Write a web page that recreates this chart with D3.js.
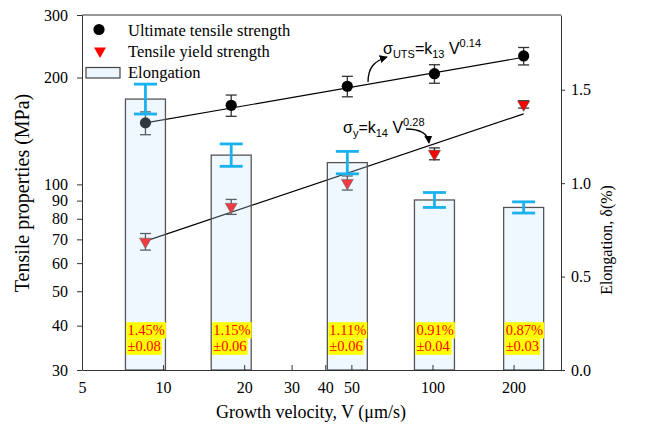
<!DOCTYPE html>
<meta charset="utf-8">
<title>Tensile properties vs growth velocity</title>
<style>
body { margin: 0; background: #fff; }
svg { display: block; }
.axis path, .axis line { stroke: #333; }
.axis text { fill: #000; }
</style>
<svg id="chart" width="646" height="440"></svg>
<script src="https://cdn.jsdelivr.net/npm/d3@7/dist/d3.min.js"></script>
<script>
// values
const velocity = [8.6, 17.9, 48.3, 101.7, 218];
const utsMean = [149, 167, 189, 205, 230];
const utsErr = [11, 11.5, 12.5, 12.3, 13];
const yieldMean = [69, 86.5, 101, 122, 168];
const yieldErr = [3.7, 4.2, 4.6, 4.7, 4];
const elongation = [1.45, 1.15, 1.11, 0.91, 0.87];
const elongationErr = [0.08, 0.06, 0.06, 0.04, 0.03];
const utsFit = [[8.6, 149], [218, 228]];
const yieldFit = [[8.6, 69.2], [218, 158]];

const xTicks = [5, 10, 20, 30, 40, 50, 100, 200];
const leftTicks = [30, 40, 50, 60, 70, 80, 90, 100, 200, 300];
const rightTicks = [0, 0.5, 1.0, 1.5];
const legendLabels = ["Ultimate tensile strength", "Tensile yield strength", "Elongation"];

const SERIF = "'Liberation Serif', 'Times New Roman', serif",
      SANS = "'Liberation Sans', Arial, sans-serif";

let svg = d3.select("#chart"),
    plot = {left: 82, right: 561, top: 15, bottom: 370};

let x = d3.scaleLog().domain([5, 300]).range([plot.left, plot.right]),
    yL = d3.scaleLog().domain([30, 300]).range([plot.bottom, plot.top]),
    yR = d3.scaleLinear().domain([0, 1.9]).range([plot.bottom, plot.top]);

let defs = svg.append("defs");
defs.append("marker")
    .attr("id", "arrow")
    .attr("viewBox", "0 0 10 10")
    .attr("refX", 9).attr("refY", 5)
    .attr("markerWidth", 8).attr("markerHeight", 8)
    .attr("markerUnits", "userSpaceOnUse")
    .attr("orient", "auto")
  .append("path")
    .attr("d", "M0,0 L10,5 L0,10 Z")
    .attr("fill", "#000");

let rows = velocity.map((v, i) => ({
  v: v, uts: utsMean[i], utsE: utsErr[i], ys: yieldMean[i], ysE: yieldErr[i],
  el: elongation[i], elE: elongationErr[i]
}));

// fit lines
let line = d3.line().x(d => x(d[0])).y(d => yL(d[1]));
[utsFit, yieldFit].forEach(f => {
  svg.append("path")
      .attr("d", line(f))
      .attr("fill", "none").attr("stroke", "#000").attr("stroke-width", 1.1);
});

// error bars for the strength points
function errBars(key, errKey) {
  let g = svg.append("g").attr("stroke", "#333").attr("stroke-width", 1.3);
  rows.forEach(d => {
    let cx = x(d.v), y0 = yL(d[key] - d[errKey]), y1 = yL(d[key] + d[errKey]);
    g.append("line").attr("x1", cx).attr("x2", cx).attr("y1", y0).attr("y2", y1);
    g.append("line").attr("x1", cx - 5.5).attr("x2", cx + 5.5).attr("y1", y0).attr("y2", y0);
    g.append("line").attr("x1", cx - 5.5).attr("x2", cx + 5.5).attr("y1", y1).attr("y2", y1);
  });
}
errBars("uts", "utsE");
errBars("ys", "ysE");

svg.append("g").selectAll("circle")
  .data(rows).enter().append("circle")
    .attr("cx", d => x(d.v))
    .attr("cy", d => yL(d.uts))
    .attr("r", 5.6)
    .attr("fill", "#000");

let tri = d3.symbol(d3.symbolTriangle, 62);
svg.append("g").selectAll("path")
  .data(rows).enter().append("path")
    .attr("d", tri)
    .attr("transform", d => "translate(" + x(d.v) + "," + yL(d.ys) + ") rotate(180)")
    .attr("fill", "#ff0000")
    .attr("stroke", "#444").attr("stroke-width", 0.6);

// elongation bars (translucent, over the points)
const barW = 40;
svg.append("g").selectAll("rect")
  .data(rows).enter().append("rect")
    .attr("x", d => x(d.v) - barW / 2)
    .attr("y", d => yR(d.el))
    .attr("width", barW)
    .attr("height", d => yR(0) - yR(d.el))
    .attr("fill", "rgba(196,228,255,0.25)")
    .attr("stroke", "#555").attr("stroke-width", 1.3);

let eg = svg.append("g").attr("stroke", "#1ab2ee").attr("stroke-width", 2.8);
rows.forEach(d => {
  let cx = x(d.v), y0 = yR(d.el - d.elE), y1 = yR(d.el + d.elE);
  eg.append("line").attr("x1", cx).attr("x2", cx).attr("y1", y0).attr("y2", y1);
  eg.append("line").attr("x1", cx - 11.5).attr("x2", cx + 11.5).attr("y1", y0).attr("y2", y0);
  eg.append("line").attr("x1", cx - 11.5).attr("x2", cx + 11.5).attr("y1", y1).attr("y2", y1);
});

// value labels inside the bars
rows.forEach(d => {
  let lx = x(d.v) - barW / 2 + 2;
  [d3.format(".2f")(d.el) + "%", "\u00b1" + d3.format(".2f")(d.elE)].forEach((s, j) => {
    let base = yR(0) - 35 + j * 16.3;
    let r = svg.append("rect").attr("fill", "#ffff00");
    let t = svg.append("text").attr("font-family", SERIF)
        .attr("x", lx).attr("y", base)
        .attr("font-size", 14.5).attr("fill", "#ff0000")
        .text(s);
    let bb = t.node().getBBox();
    r.attr("x", lx - 1).attr("y", base - 12.8).attr("width", bb.width + 2).attr("height", 16.3);
  });
});

// axes
let axL = svg.append("g").attr("class", "axis")
    .attr("transform", "translate(" + plot.left + ",0)")
    .call(d3.axisLeft(yL).tickValues(leftTicks).tickFormat(d3.format("d"))
      .tickSize(5).tickSizeOuter(0).tickPadding(9));
let axR = svg.append("g").attr("class", "axis")
    .attr("transform", "translate(" + plot.right + ",0)")
    .call(d3.axisRight(yR).tickValues(rightTicks).tickFormat(d3.format(".1f"))
      .tickSize(4).tickSizeOuter(0).tickPadding(6));
let axB = svg.append("g").attr("class", "axis")
    .attr("transform", "translate(0," + plot.bottom + ")")
    .call(d3.axisBottom(x).tickValues(xTicks).tickFormat(d3.format("d"))
      .tickSize(-5).tickSizeOuter(0).tickPadding(12));
[axL, axR, axB].forEach(a => a.attr("font-family", SERIF).attr("font-size", 16));
svg.append("line")
    .attr("x1", plot.left).attr("x2", plot.right)
    .attr("y1", plot.top).attr("y2", plot.top)
    .attr("stroke", "#333");

// axis titles
svg.append("text").attr("font-family", SERIF)
    .attr("transform", "translate(29,193) rotate(-90)")
    .attr("text-anchor", "middle").attr("font-size", 20)
    .text("Tensile properties (MPa)");
svg.append("text").attr("font-family", SERIF)
    .attr("transform", "translate(612,240) rotate(-90)")
    .attr("text-anchor", "middle").attr("font-size", 16)
    .text("Elongation, \u03b4(%)");
svg.append("text").attr("font-family", SERIF)
    .attr("x", 311).attr("y", 418)
    .attr("text-anchor", "middle").attr("font-size", 18)
    .text("Growth velocity, V (\u03bcm/s)");

// legend
let lg = svg.append("g");
lg.append("circle").attr("cx", 99).attr("cy", 29.5).attr("r", 5.6).attr("fill", "#000");
lg.append("path").attr("d", tri)
    .attr("transform", "translate(100,51) rotate(180)")
    .attr("fill", "#ff0000");
lg.append("rect").attr("x", 86).attr("y", 67.5).attr("width", 34).attr("height", 10.5)
    .attr("fill", "#eef6fd").attr("stroke", "#444").attr("stroke-width", 1.2);
legendLabels.forEach((s, i) => {
  lg.append("text").attr("font-family", SERIF)
      .attr("x", 128).attr("y", 35.5 + i * 21.3)
      .attr("font-size", 16.5)
      .text(s);
});

// fit equations
function equation(px, py, sub1, num, exp) {
  let t = svg.append("text").attr("font-family", SANS)
      .attr("x", px).attr("y", py).attr("font-size", 16);
  t.append("tspan").text("\u03c3");
  t.append("tspan").attr("font-size", 11).attr("dy", 4).text(sub1);
  t.append("tspan").attr("dy", -4).text("=k");
  t.append("tspan").attr("font-size", 11).attr("dy", 4).text(num);
  t.append("tspan").attr("dy", -4).text(" V");
  t.append("tspan").attr("font-size", 11).attr("dy", -7).text(exp);
}
equation(383, 54, "UTS", "13", "0.14");
equation(343, 133, "y", "14", "0.28");

svg.append("path")
    .attr("d", "M368,82 C368,68 374,61 387,57")
    .attr("fill", "none").attr("stroke", "#000").attr("stroke-width", 1.3)
    .attr("marker-end", "url(#arrow)");
svg.append("path")
    .attr("d", "M406,129 C420,129 428,133 429,143")
    .attr("fill", "none").attr("stroke", "#000").attr("stroke-width", 1.3)
    .attr("marker-end", "url(#arrow)");
</script>
